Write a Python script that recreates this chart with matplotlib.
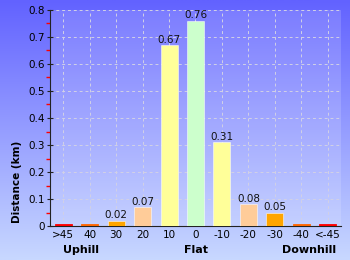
import numpy as np
import matplotlib
matplotlib.use("Agg")
import matplotlib.pyplot as plt
from matplotlib.colors import LinearSegmentedColormap

categories = [">45", "40", "30", "20", "10", "0", "-10", "-20", "-30", "-40", "<-45"]
values = [0.007, 0.006, 0.02, 0.07, 0.67, 0.76, 0.31, 0.08, 0.05, 0.006, 0.007]
labels = ["", "", "0.02", "0.07", "0.67", "0.76", "0.31", "0.08", "0.05", "", ""]
colors = ["#ff0000", "#ff6600", "#ffa500", "#ffcc99", "#ffff99", "#ccffcc",
          "#ffff99", "#ffcc99", "#ffa500", "#ff6600", "#ff0000"]
groups = ["Uphill", "Flat", "Downhill"]

fig = plt.figure(figsize=(3.5, 2.6), dpi=100)
bg = fig.add_axes([0, 0, 1, 1], zorder=-10)
cmap = LinearSegmentedColormap.from_list("bg", ["#6262ff", "#c8d8ff"])
grad = np.linspace(0, 1, 256).reshape(-1, 1)
bg.imshow(grad, aspect="auto", cmap=cmap, extent=[0, 1, 0, 1], origin="upper")
bg.axis("off")

ax = fig.add_axes([50/350, 34/260, 291/350, 216/260])
ax.set_facecolor((1, 1, 1, 0.15))
x = np.arange(len(categories))
edges = [(1, 1, 1, 0.6) if v > 0.01 else c for v, c in zip(values, colors)]
ax.bar(x, values, width=0.64, color=colors, edgecolor=edges, linewidth=0.6, zorder=3)
for xi, v, lab in zip(x, values, labels):
    if lab:
        ax.text(xi, v + 0.002, lab, ha="center", va="bottom", fontsize=7.5, color="#111111", zorder=4)

ax.set_xlim(-0.5, len(categories) - 0.5)
ax.set_ylim(0, 0.8)
ax.set_xticks(x)
ax.set_xticklabels(categories, fontsize=7.5)
ax.set_yticks(np.arange(0, 0.81, 0.1))
ax.set_yticklabels(["0"] + ["%.1f" % t for t in np.arange(0.1, 0.81, 0.1)], fontsize=7.5)
ax.set_yticks(np.arange(0.05, 0.8, 0.1), minor=True)
ax.tick_params(axis="y", which="minor", length=3, color="red", width=1, direction="out")
ax.tick_params(axis="y", which="major", length=5, width=0.8, color="#222222", pad=1, direction="inout")
ax.tick_params(axis="x", which="major", length=0, pad=3)
ax.grid(True, which="major", color=(0.82, 0.82, 0.9, 0.55), linestyle=(0, (3, 3)), linewidth=0.7, zorder=0)
for s in ["top", "right"]:
    ax.spines[s].set_visible(False)
ax.spines["left"].set_color("#222222")
ax.spines["bottom"].set_color("#222222")

fig.text(17/350, 1 - 223/260, "Distance (km)", rotation=90, ha="center", va="bottom",
         fontsize=7.5, fontweight="bold")

fig.text(81/350, 1 - 250/260, groups[0], ha="center", va="center", fontsize=8, fontweight="bold")
fig.text(196/350, 1 - 250/260, groups[1], ha="center", va="center", fontsize=8, fontweight="bold")
fig.text(309/350, 1 - 250/260, groups[2], ha="center", va="center", fontsize=8, fontweight="bold")

fig.savefig("out.png", dpi=100)
